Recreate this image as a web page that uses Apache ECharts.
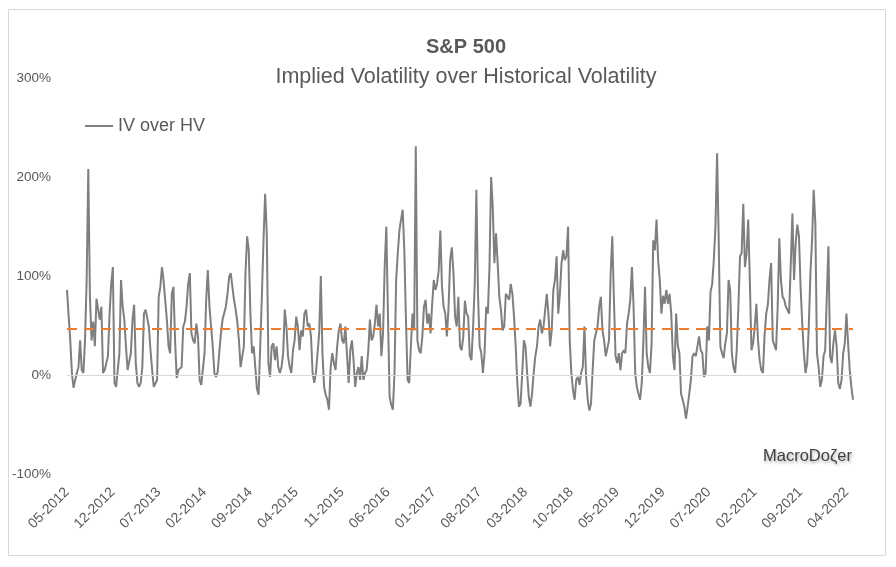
<!DOCTYPE html>
<html>
<head>
<meta charset="utf-8">
<script src="https://cdn.jsdelivr.net/npm/echarts@6/dist/echarts.min.js"></script>
<style>
html,body{margin:0;padding:0;background:#fff;}
#c{width:896px;height:567px;}
</style>
</head>
<body>
<div id="c"></div>
<script>
const startYear = 2012, startMonth = 5, perMonth = 4;
const ivOverHv = [
 86,60,35,2,-13,-5,2,8,35,5,
 2,35,96,208,79,35,54,29,77,76,
 56,69,2,5,12,19,62,92,109,-8,
 -12,-12,22,96,69,56,29,5,5,22,
 56,71,12,-8,-12,-8,8,62,66,66,
 49,25,5,-12,-12,-5,79,89,109,95,
 75,56,29,22,82,89,35,-3,5,7,
 8,49,54,69,92,103,42,35,32,52,
 39,-5,-10,-10,22,76,106,69,49,29,
 2,-2,3,5,42,56,56,69,82,99,
 103,89,76,66,54,35,8,8,29,103,
 140,126,62,22,29,8,-14,-20,29,79,
 136,183,143,12,-2,29,32,15,29,8,
 2,8,22,66,49,19,8,2,25,35,
 59,49,25,45,39,62,66,49,52,39,
 2,-8,2,22,42,100,22,-12,-20,-25,
 -35,8,22,12,5,29,45,52,35,32,
 49,49,-8,25,35,15,-12,2,8,-5,
 19,-5,2,5,25,56,35,39,52,71,
 49,62,19,42,109,150,62,-22,-30,-35,
 2,96,123,146,157,167,126,56,-5,-8,
 29,62,45,231,35,25,22,39,69,76,
 52,62,42,72,96,86,92,106,146,89,
 69,62,39,69,116,129,103,59,49,79,
 29,25,39,75,62,59,19,15,49,92,
 187,82,29,22,2,22,69,62,109,200,
 170,113,143,113,79,66,45,49,82,82,
 76,92,82,59,29,-8,-32,-29,2,35,
 29,2,-22,-32,-19,2,19,29,49,56,
 42,49,50,82,62,29,45,86,96,120,
 62,82,113,126,116,120,150,35,2,-15,
 -25,-5,-2,-10,2,8,49,-2,-25,-36,
 -29,5,35,35,49,69,79,45,35,19,
 27,35,103,140,76,19,12,22,5,22,
 25,22,52,62,76,109,69,2,-12,-19,
 -25,-8,35,89,22,8,2,32,136,126,
 157,116,96,62,80,72,86,72,82,62,
 19,5,62,30,22,-19,-25,-32,-44,-32,
 -19,-5,19,22,19,29,39,25,22,-2,
 2,49,35,84,92,116,150,224,136,29,
 22,17,32,42,96,86,22,8,2,25,
 69,120,123,173,109,123,157,96,25,32,
 49,72,35,15,5,2,40,62,71,96,
 113,35,30,25,69,138,96,79,76,69,
 69,62,62,163,96,133,152,140,89,52,
 22,2,12,49,103,136,187,153,22,8,
 -12,-5,19,25,79,130,19,12,32,45,
 29,-8,-14,-5,22,32,62,32,5,-12,
 -25
];
const averageLevel = 46.5;
const yTicks = [-100, 0, 100, 200, 300];
const labelEveryMonths = 7;

const categories = ivOverHv.map((_, i) => {
  const m0 = startMonth - 1 + Math.floor(i / perMonth);
  const y = startYear + Math.floor(m0 / 12);
  const m = (m0 % 12) + 1;
  return (m < 10 ? '0' + m : '' + m) + '-' + y + '#' + (i % perMonth);
});

const chart = echarts.init(document.getElementById('c'), null, {renderer: 'canvas'});
const txt = '#595959';
const ff = 'Liberation Sans, Arial, sans-serif';
chart.setOption({
  backgroundColor: '#ffffff',
  animation: false,
  title: [{
    text: 'S&P 500',
    left: 461, top: 32, textAlign: 'center',
    textStyle: {fontFamily: ff, fontWeight: 'bold', fontSize: 20, color: txt}
  }, {
    text: 'Implied Volatility over Historical Volatility',
    left: 461, top: 61, textAlign: 'center',
    textStyle: {fontFamily: ff, fontWeight: 'normal', fontSize: 21.5, color: txt}
  }],
  legend: {
    left: 80, top: 112,
    itemWidth: 28, itemHeight: 2, itemGap: 4,
    icon: 'rect',
    data: ['IV over HV'],
    textStyle: {fontFamily: ff, fontSize: 18, color: txt}
  },
  grid: {left: 67, right: 43, top: 78, bottom: 93},
  xAxis: {
    type: 'category',
    data: categories,
    boundaryGap: false,
    axisLine: {show: false},
    axisTick: {show: false},
    axisLabel: {
      interval: labelEveryMonths * perMonth - 1,
      rotate: 45,
      margin: 16,
      color: txt,
      fontSize: 14,
      fontFamily: ff,
      formatter: v => v.split('#')[0]
    },
    splitLine: {show: false}
  },
  yAxis: {
    type: 'value',
    min: yTicks[0], max: yTicks[yTicks.length - 1], interval: 100,
    axisLine: {show: false},
    axisTick: {show: false},
    splitLine: {show: false},
    axisLabel: {
      color: txt, fontSize: 13.5, margin: 16,
      fontFamily: ff,
      formatter: v => v + '%'
    }
  },
  series: [{
    name: 'IV over HV',
    type: 'line',
    data: ivOverHv,
    showSymbol: false,
    symbol: 'none',
    color: '#7f7f7f',
    lineStyle: {color: '#7f7f7f', width: 2},
    z: 3,
    markLine: {
      silent: true,
      symbol: 'none',
      label: {show: false},
      data: [
        {yAxis: 0, lineStyle: {color: '#d9d9d9', width: 1, type: 'solid'}},
        {yAxis: averageLevel, lineStyle: {color: '#ed7d31', width: 2.2, type: [10, 7]}}
      ]
    }
  }],
  graphic: [{
    type: 'rect',
    shape: {x: 8.5, y: 9.5, width: 877, height: 546},
    style: {fill: null, stroke: '#d9d9d9', lineWidth: 1},
    silent: true
  }, {
    type: 'text',
    left: 763, top: 448,
    style: {
      text: 'MacroDoζer',
      font: '16.5px "Liberation Sans", Arial, sans-serif',
      fill: '#404040',
      textShadowColor: 'rgba(0,0,0,0.35)',
      textShadowBlur: 3,
      textShadowOffsetX: 1,
      textShadowOffsetY: 2
    }
  }]
});
</script>
</body>
</html>
